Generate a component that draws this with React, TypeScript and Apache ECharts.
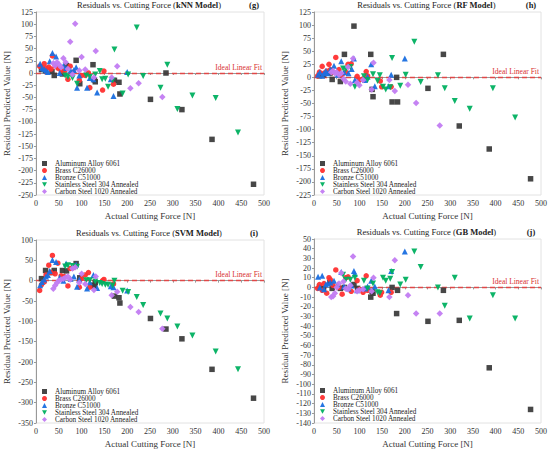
import React, { useEffect, useRef } from "react";
import * as echarts from "echarts";

// ---------- data ----------
const models = ["kNN Model", "RF Model", "SVM Model", "GB Model"];
const panelLabels = ["(g)", "(h)", "(i)", "(j)"];
const materials = [
  "Aluminum Alloy 6061",
  "Brass C26000",
  "Bronze C51000",
  "Stainless Steel 304 Annealed",
  "Carbon Steel 1020 Annealed",
];

const alX = [12, 21, 35, 40, 58, 67, 88, 96, 125, 128, 130, 172, 182, 184, 251, 285, 320, 386, 477];
const alKNN = [7, 5, 3, -5, -2, 15, 26, -22, 17, -14, -18, -15, -19, -43, -54, 0, -75, -136, -228];
const alRF = [3, 5, 8, -4, -8, 44, 98, -11, 44, -23, -37, -47, 0, -47, -21, 44, -93, -137, -194];
const alSVM = [5, 25, 20, 25, 25, 24, 42, 7, -11, -13, -5, -38, -42, -55, -93, -119, -143, -218, -289];
const alGB = [0, -1, 5, -1, -1, 0, 3, -1, -10, -4, -6, 0, -27, -3, -35, -3, -34, -83, -126];

const brX = [8, 12, 18, 22, 28, 33, 36, 42, 48, 55, 62, 70, 75, 82, 95, 100, 108, 115, 118, 146, 149, 170];
const brKNN = [14, 12, 19, 10, 12, 8, 35, 15, 10, 5, 3, -13, 14, 2, -15, -5, -5, 0, -30, -35, 4, -23];
const brRF = [3, 10, 21, 8, 12, 25, 15, 10, 38, 15, 5, 10, 25, 26, 2, -5, -3, 11, 3, -7, -18, -18];
const brSVM = [-24, -10, -3, 14, 38, 20, 62, 17, 43, 12, 10, -13, 30, 32, -16, 5, 14, 20, -16, 0, 3, -8];
const brGB = [-1, 3, -3, 4, -6, 10, 8, 2, 18, 0, -7, 10, 11, -4, 7, -2, -5, 12, -3, -8, -5, -5];

const bzX = [9, 13, 18, 22, 26, 30, 36, 44, 52, 60, 66, 76, 83, 88, 90, 95, 112, 118, 126, 134, 164, 170, 200];
const bzKNN = [19, 10, 8, 5, 2, 24, 41, 34, 0, 15, 10, 5, 6, 12, -30, -5, -30, -10, -13, -40, -13, -47, 2];
const bzRF = [5, 10, 3, 8, 12, 8, 15, 22, 5, 31, 10, 8, 16, 36, -5, -8, -5, 1, 25, -17, -17, 5, 36];
const bzSVM = [-11, -3, 3, 10, 14, 24, 51, 46, 8, 0, 42, 5, 10, 40, -15, 3, -19, -4, 14, -18, -14, -16, -24];
const bzGB = [11, 0, 12, -2, 3, 4, 5, 7, 3, 16, 1, -1, 2, 17, 14, -3, -1, 1, 7, 1, -3, 17, 37];

const ssX = [64, 70, 80, 90, 110, 118, 130, 140, 145, 152, 158, 168, 172, 190, 202, 221, 235, 273, 288, 310, 343, 394, 443];
const ssKNN = [-5, -8, -10, -22, -5, -8, -3, 4, -13, -12, -28, -15, 48, -42, -3, 93, -6, -30, 17, -74, -46, -51, -122];
const ssRF = [17, 15, 20, -18, 2, -5, 6, -7, 4, -18, -23, -19, 37, -16, 5, 68, -9, 4, -21, -45, -60, -21, -77];
const ssSVM = [35, 38, 36, 34, 1, 1, -2, -6, -8, -10, -10, -12, 0, -25, -28, -40, -60, -81, -93, -113, -135, -174, -218];
const ssGB = [13, 8, 8, 10, 7, -1, 4, -5, -6, 10, 7, 9, 16, 3, 8, 37, 21, 0, -19, 10, -32, -8, -32];

const csX = [38, 42, 46, 50, 55, 60, 65, 70, 75, 80, 86, 95, 100, 108, 127, 131, 166, 178, 207, 225, 277];
const csKNN = [20, 15, 22, 18, 12, 30, 22, 8, 64, -3, 101, 5, 33, 7, -9, 45, -9, 14, -31, -21, -49];
const csRF = [10, 12, 8, 10, 5, 8, -3, -8, 20, -12, 36, -10, -15, -5, -23, 28, -5, -26, -14, -49, -92];
const csSVM = [-20, -12, -5, 0, 3, 5, 8, 10, 3, 30, 33, -5, 17, -8, -23, 10, -36, -27, -65, -77, -118];
const csGB = [-10, -9, -6, 0, 4, 15, 6, -1, -2, 2, 32, -4, -3, -2, -4, 10, -10, 28, -8, -27, -27];

const xTicks = { min: 0, max: 500, interval: 50 };
const yTicks = [
  { min: -250, max: 125, interval: 25 },
  { min: -225, max: 125, interval: 25 },
  { min: -350, max: 100, interval: 50 },
  { min: -140, max: 50, interval: 10 },
];

const xs = [alX, brX, bzX, ssX, csX];
const ys = [
  [alKNN, brKNN, bzKNN, ssKNN, csKNN],
  [alRF, brRF, bzRF, ssRF, csRF],
  [alSVM, brSVM, bzSVM, ssSVM, csSVM],
  [alGB, brGB, bzGB, ssGB, csGB],
];

// ---------- style ----------
const FONT = "'Liberation Serif', 'Times New Roman', serif";
const colors = ["#3d3d3d", "#ff3030", "#1a6fe0", "#00b060", "#c27cf2"];
const symbols = ["rect", "circle", "triangle", "triangle", "diamond"];
const rotates = [0, 0, 0, 180, 0];
const sizes = [5.5, 5.5, 6, 6, 6.5];
const legendIcons = ["rect", "circle", "triangle", "path://M0,0L10,0L5,9Z", "diamond"];

const grids = [
  { left: 36, top: 12, width: 228, height: 183 },
  { left: 314, top: 12, width: 227, height: 183 },
  { left: 36, top: 240, width: 228, height: 183 },
  { left: 314, top: 239, width: 227, height: 184 },
];

export default function App() {
  const ref = useRef<HTMLDivElement>(null);
  useEffect(() => {
    if (!ref.current) return;
    const chart = echarts.init(ref.current, undefined, { renderer: "svg" });

    const series: any[] = [];
    models.forEach((m, gi) => {
      materials.forEach((name, mi) => {
        const s: any = {
          type: "scatter",
          name,
          xAxisIndex: gi,
          yAxisIndex: gi,
          symbol: symbols[mi],
          symbolSize: sizes[mi],
          symbolRotate: rotates[mi],
          itemStyle: { color: colors[mi], opacity: 0.95 },
          data: xs[mi].map((x, i) => [x, ys[gi][mi][i]]),
          z: 3,
        };
        if (mi === 0) {
          s.markLine = {
            silent: true,
            symbol: "none",
            lineStyle: { color: "#e04848", type: [5, 3], width: 1.3 },
            label: {
              show: true,
              position: "insideEndTop",
              formatter: "Ideal Linear Fit",
              color: "#d83030",
              fontFamily: FONT,
              fontSize: 7.5,
              distance: 2,
            },
            data: [{ yAxis: 0 }],
            z: 2,
          };
        }
        series.push(s);
      });
    });

    const legends: any[] = [];
    grids.forEach((g) => {
      materials.forEach((name, mi) => {
        legends.push({
          orient: "vertical",
          left: g.left + 6,
          top: g.top + 148 + mi * 7,
          itemWidth: 5,
          itemHeight: 5,
          padding: 0,
          textStyle: {
            fontFamily: FONT,
            fontSize: 7.2,
            color: "#222",
            padding: [0, 0, 0, 3],
          },
          data: [{ name, icon: legendIcons[mi] }],
        });
      });
    });

    const option: any = {
      animation: false,
      backgroundColor: "#fff",
      textStyle: { fontFamily: FONT },
      title: grids.flatMap((g, gi) => [
        {
          text: `{n|Residuals vs. Cutting Force (}{b|${models[gi]}}{n|)}`,
          left: g.left + g.width / 2 - 1,
          top: g.top - 12,
          textAlign: "center",
          padding: 0,
          textStyle: {
            fontWeight: "normal",
            rich: {
              n: { fontFamily: FONT, fontSize: 8.5, color: "#222", fontWeight: "normal" },
              b: { fontFamily: FONT, fontSize: 8.5, color: "#222", fontWeight: "bold" },
            },
          },
        },
        {
          text: panelLabels[gi],
          left: g.left + g.width - 10,
          top: g.top - 12,
          textAlign: "center",
          padding: 0,
          textStyle: { fontFamily: FONT, fontSize: 8.5, fontWeight: "bold", color: "#222" },
        },
      ]),
      legend: legends,
      grid: grids.map((g) => ({
        ...g,
        show: true,
        borderColor: "#e2e2e2",
        borderWidth: 1,
        backgroundColor: "transparent",
      })),
      xAxis: grids.map((g, gi) => ({
        gridIndex: gi,
        type: "value",
        ...xTicks,
        name: "Actual Cutting Force [N]",
        nameLocation: "middle",
        nameGap: 16,
        nameTextStyle: { fontFamily: FONT, fontSize: 9, color: "#333", fontWeight: "normal" },
        axisLine: { show: true, lineStyle: { color: "#999", width: 1 } },
        axisTick: { show: true, length: 2, lineStyle: { color: "#999" } },
        axisLabel: { fontFamily: FONT, fontSize: 8, color: "#333", margin: 4 },
        splitLine: { show: false },
      })),
      yAxis: grids.map((g, gi) => ({
        gridIndex: gi,
        type: "value",
        ...yTicks[gi],
        name: "Residual Predicted Value [N]",
        nameLocation: "middle",
        nameGap: 25,
        nameTextStyle: { fontFamily: FONT, fontSize: 9, color: "#333", fontWeight: "normal" },
        axisLine: { show: true, onZero: false, lineStyle: { color: "#999", width: 1 } },
        axisTick: { show: true, length: 2, lineStyle: { color: "#999" } },
        axisLabel: { fontFamily: FONT, fontSize: 8, color: "#333", margin: 3 },
        splitLine: { show: false },
      })),
      series,
    };
    chart.setOption(option);
    return () => chart.dispose();
  }, []);

  return (
    <div
      ref={ref}
      style={{ position: "absolute", left: 0, top: 0, width: 550, height: 455, background: "#fff" }}
    />
  );
}
